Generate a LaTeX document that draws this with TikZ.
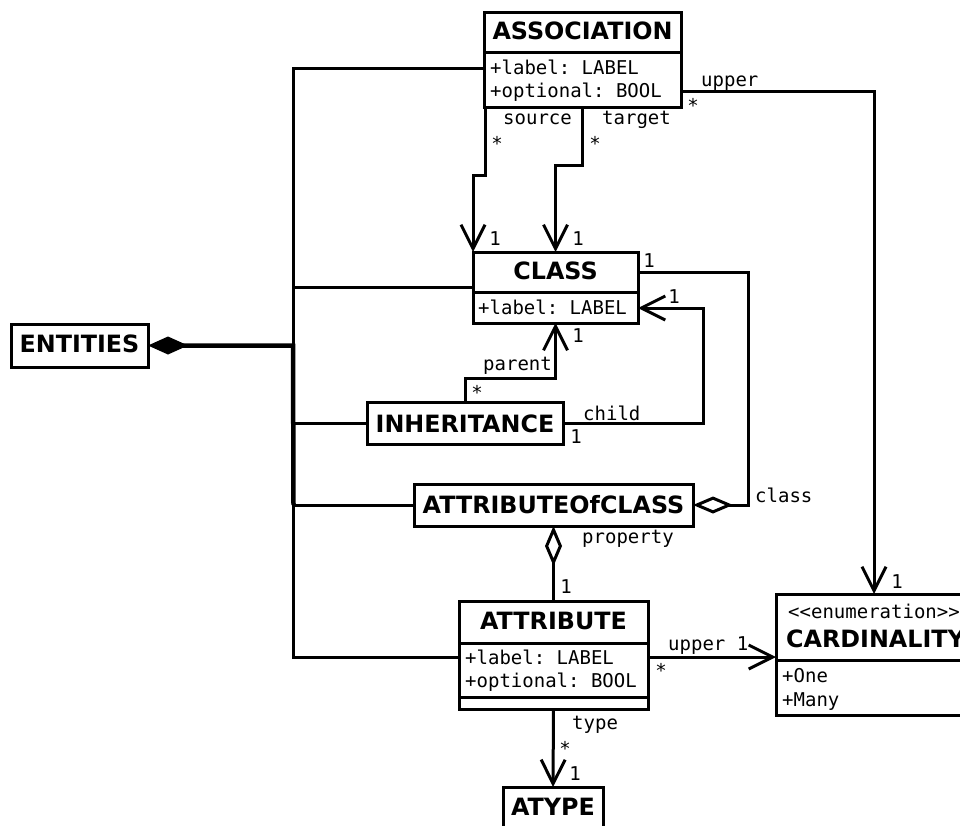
\documentclass[tikz,border=0pt]{standalone}
\usepackage{fontspec}
\setmainfont{DejaVu Sans}
\setmonofont{DejaVu Sans Mono}
\usetikzlibrary{arrows.meta,calc}

\tikzset{
  box/.style={draw, line width=3pt, inner sep=0pt, outer sep=0pt, fill=white},
  divider/.style={line width=3pt},
  conn/.style={line width=3pt, line join=miter},
  nav/.style={-{Straight Barb[length=24pt,width=24pt]}},
  aggr/.style={{Diamond[fill=white,length=40pt,width=17pt]}-},
  comp/.style={{Diamond[length=40pt,width=18pt]}-},
  title/.style={font=\bfseries\fontsize{23.8pt}{23.8pt}\selectfont, inner sep=0pt, anchor=base},
  attrtxt/.style={font=\ttfamily\fontsize{19pt}{19pt}\selectfont, inner sep=0pt, anchor=base west},
  role/.style={font=\ttfamily\fontsize{19pt}{19pt}\selectfont, inner sep=0pt, anchor=base west},
  mult/.style={font=\ttfamily\fontsize{19pt}{19pt}\selectfont, inner sep=0pt, anchor=base},
}

\begin{document}
\begin{tikzpicture}[x=1pt,y=-1pt]
\useasboundingbox (0,0) rectangle (960,825);
\clip (0,0) rectangle (960,825);

% class boxes (outlines only; texts are set separately)
\node[box, minimum width=197pt, minimum height=95pt]  (assoc) at (582.5,59.5) {};
\node[box, minimum width=165pt, minimum height=71pt]  (class) at (555.5,287.5) {};
\node[box, minimum width=137pt, minimum height=43pt]  (ent)   at (79.5,345.5) {};
\node[box, minimum width=196pt, minimum height=42pt]  (inh)   at (465,423) {};
\node[box, minimum width=279pt, minimum height=42pt]  (aoc)   at (553.5,505) {};
\node[box, minimum width=189pt, minimum height=108pt] (attr)  at (553.5,655) {};
\node[box, minimum width=100pt, minimum height=58pt]  (atype) at (553,816) {};
\node[box, minimum width=196pt, minimum height=121pt] (card)  at (874,654.5) {};

% bus that collects the entity kinds
\coordinate (busTop) at (293,68);
\coordinate (busBot) at (293,657);
\draw[conn] (assoc.west |- busTop) -- (busTop) -- (busBot) -- (attr.west |- busBot);
\draw[conn] (class.west) -- (class.west -| busTop);
\draw[conn] (inh.west) -- (inh.west -| busTop);
\draw[conn] (aoc.west) -- (aoc.west -| busTop);
\draw[conn, comp, line width=4.5pt] (ent.east) -- (ent.east -| busTop) -- ([xshift=0.5pt]aoc.west -| busTop);

% associations
\draw[conn, nav] ([xshift=1pt]assoc.south west) -- ++(0,68) -| (class.north west);
\draw[conn, nav] (assoc.south) -- ++(0,58) -| (class.north);
\draw[conn, nav] (assoc.east |- 0,91) -| (card.north);
\draw[conn, aggr] (aoc.east) -- ++(55,0) |- (class.east |- 0,272);
\draw[conn, nav] (inh.east) -- ++(140,0) |- (class.east |- 0,308);
\draw[conn, nav] (inh.north) -- ++(0,-24) -| (class.south);
\draw[conn, aggr] (aoc.south) -- (attr.north);
\draw[conn, nav] (attr.east |- busBot) -- (card.west |- busBot);
\draw[conn, nav] (attr.south) -- (atype.north);

% redraw outlines over connector ends
\foreach \b in {assoc,class,ent,inh,aoc,attr,atype,card}
  \draw[line width=3pt] (\b.north west) rectangle (\b.south east);

% compartments
\draw[divider] (assoc.west |- 0,52) -- (assoc.east |- 0,52);
\draw[divider] (class.west |- 0,292) -- (class.east |- 0,292);
\draw[divider] (attr.west |- 0,643) -- (attr.east |- 0,643);
\draw[divider] (attr.west |- 0,697) -- (attr.east |- 0,697);
\draw[divider] (card.west |- 0,660) -- (card.east |- 0,660);

% titles
\node[title] (tAssoc) at (582.5,39) {ASSOCIATION};
\node[title] (tClass) at (555.5,279) {CLASS};
\node[title] (tEnt)   at (79.5,352) {ENTITIES};
\node[title] (tInh)   at (465,432) {INHERITANCE};
\node[title] (tAoc)   at (553.5,513) {ATTRIBUTEOfCLASS};
\node[title] (tAttr)  at (553.5,629) {ATTRIBUTE};
\node[title] (tAtype) at (553,815) {ATYPE};
\node[title, anchor=base west] (tCard) at (786,647) {CARDINALITY};

% attributes
\node[attrtxt] (aLab1) at (490,74.5) {+label: LABEL};
\node[attrtxt] (aOpt1) at (490,97.5) {+optional: BOOL};
\node[attrtxt] (aLab2) at (478,314) {+label: LABEL};
\node[attrtxt] (aLab3) at (465,664) {+label: LABEL};
\node[attrtxt] (aOpt3) at (465,687) {+optional: BOOL};
\node[attrtxt] (cStereo) at (788,618) {<\kern0pt<enumeration>\kern0pt>};
\node[attrtxt] (cOne)  at (782,682) {+One};
\node[attrtxt] (cMany) at (782,706) {+Many};

% role names
\node[role] (rSource)   at (503,124) {source};
\node[role] (rTarget)   at (602,124) {target};
\node[role] (rUpperA)   at (701,86)  {upper};
\node[role] (rParent)   at (483,370) {parent};
\node[role] (rChild)    at (583,420) {child};
\node[role] (rClass)    at (755,502) {class};
\node[role] (rProperty) at (582,543) {property};
\node[role] (rUpperB)   at (668,650) {upper 1};
\node[role] (rType)     at (572,729) {type};

% multiplicities
\node[mult] (m1)  at (497,150) {*};
\node[mult] (m2)  at (595,150) {*};
\node[mult] (m3)  at (495,245) {1};
\node[mult] (m4)  at (578,245) {1};
\node[mult] (m5)  at (693,112) {*};
\node[mult] (m6)  at (649,267) {1};
\node[mult] (m7)  at (674,303) {1};
\node[mult] (m8)  at (578,342) {1};
\node[mult] (m9)  at (477,399) {*};
\node[mult] (m10) at (576,443) {1};
\node[mult] (m11) at (566,593) {1};
\node[mult] (m12) at (661,677) {*};
\node[mult] (m13) at (565,755) {*};
\node[mult] (m14) at (575,780) {1};
\node[mult] (m15) at (897,588) {1};
\end{tikzpicture}
\end{document}
